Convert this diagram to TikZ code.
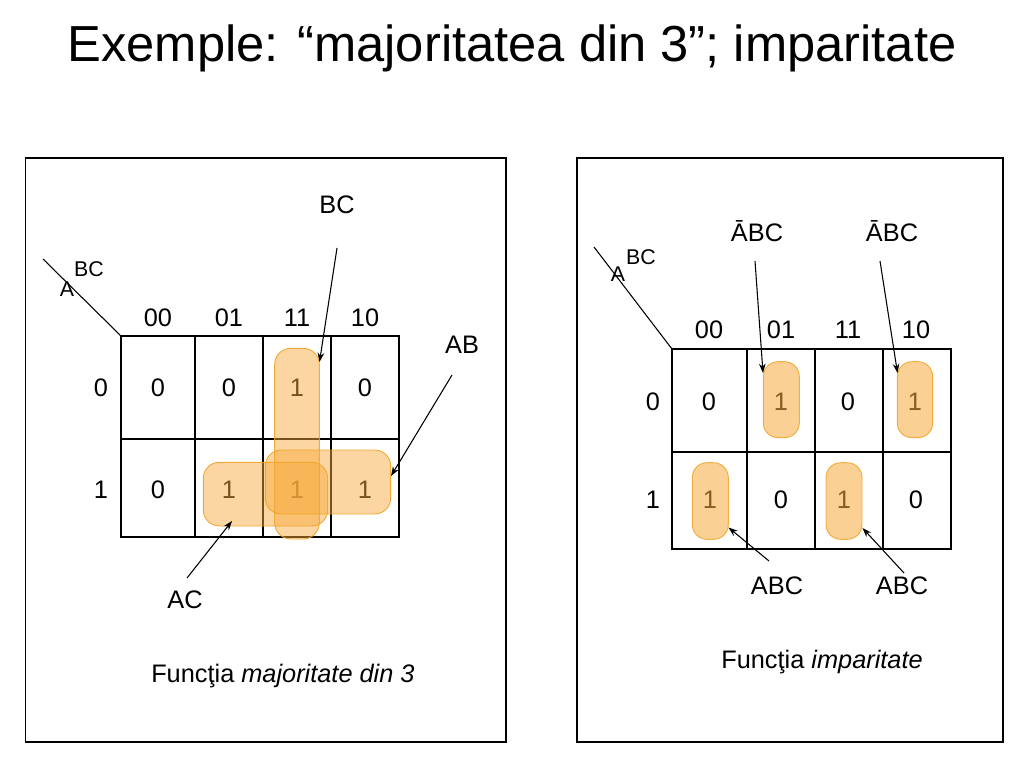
\documentclass[tikz,border=0pt]{standalone}
\usepackage{fontspec}
\setmainfont{Liberation Sans}
\usetikzlibrary{arrows.meta}
\definecolor{loopfill}{RGB}{247,170,60}
\definecolor{loopdraw}{RGB}{240,160,30}
\tikzset{
  x=0.75pt, y=-0.75pt,
  frame/.style={draw=black, line width=0.9pt},
  grid/.style={draw=black, line width=0.9pt},
  txt/.style={inner sep=0pt, font=\fontsize{19}{21}\selectfont},
  small/.style={inner sep=0pt, font=\fontsize{16}{18}\selectfont},
  captext/.style={inner sep=0pt, font=\fontsize{19}{21}\selectfont},
  loopA/.style={fill=loopfill, draw=loopdraw, fill opacity=0.48, draw opacity=0.85, line width=0.7pt, rounded corners=12pt},
  loopB/.style={fill=loopfill, draw=loopdraw, fill opacity=0.55, draw opacity=0.8, line width=0.7pt, rounded corners=11pt},
  arr/.style={draw=black, line width=0.8pt, -{Stealth[length=7pt,width=5pt]}},
}
\begin{document}
\begin{tikzpicture}
\useasboundingbox (0,0) rectangle (1024,768);
% title
\node[inner sep=0pt, font=\fontsize{38}{42}\selectfont] (title) at (512,48) {Exemple: “majoritatea din 3”; imparitate};

% frames
\draw[frame] (25.5,158) rectangle (506,742);
\draw[frame] (577,158) rectangle (1003,742);

% ===== left K-map =====
\draw[grid] (121,336) rectangle (399,537);
\draw[grid] (195,336) -- (195,537);
\draw[grid] (263,336) -- (263,537);
\draw[grid] (331,336) -- (331,537);
\draw[grid] (121,439) -- (399,439);
\coordinate (lcorner) at (121,336);
\coordinate (ldiag) at (43,259);
\draw[grid, line width=0.8pt] (ldiag) -- (lcorner);
\node[small] (lA) at (67,289) {A};
\node[small] (lBC) at (89,269) {BC};
\node[txt] (lh00) at (158,318) {00};
\node[txt] (lh01) at (229,318) {01};
\node[txt] (lh11) at (297,318) {11};
\node[txt] (lh10) at (365,318) {10};
\node[txt] (lr0) at (101,388) {0};
\node[txt] (lr1) at (101,490) {1};
\node[txt] (l00) at (158,388) {0};
\node[txt] (l01) at (229,388) {0};
\node[txt] (l11) at (297,388) {1};
\node[txt] (l10) at (365,388) {0};
\node[txt] (l100) at (158,490) {0};
\node[txt] (l101) at (229,490) {1};
\node[txt] (l111) at (297,490) {1};
\node[txt] (l110) at (365,490) {1};
% loops
\draw[loopA] (274.7,348.3) rectangle (319.3,539);
\draw[loopA] (203.3,462.3) rectangle (327.7,526);
\draw[loopA] (265.3,450) rectangle (390.7,514);
% labels and arrows
\node[txt] (BClab) at (337,205) {BC};
\node[txt] (ABlab) at (462,345) {AB};
\node[txt] (AClab) at (185,600) {AC};
\coordinate (BCs) at (337,248);
\coordinate (BCe) at (319.5,362);
\coordinate (ABs) at (452,375);
\coordinate (ABe) at (391,476);
\coordinate (ACs) at (187,578);
\coordinate (ACe) at (232,521);
\draw[arr] (BCs) -- (BCe);
\draw[arr] (ABs) -- (ABe);
\draw[arr] (ACs) -- (ACe);
\node[captext, anchor=west] (lcap) at (151,676) {Funcţia \textit{majoritate din 3}};

% ===== right K-map =====
\draw[grid] (672,349) rectangle (951,549);
\draw[grid] (747,349) -- (747,549);
\draw[grid] (815,349) -- (815,549);
\draw[grid] (883,349) -- (883,549);
\draw[grid] (672,452) -- (951,452);
\coordinate (rcorner) at (672,349);
\coordinate (rdiag) at (594,247);
\draw[grid, line width=0.8pt] (rdiag) -- (rcorner);
\node[small] (rA) at (618,274) {A};
\node[small] (rBC) at (641,257) {BC};
\node[txt] (rh00) at (709,330) {00};
\node[txt] (rh01) at (781,330) {01};
\node[txt] (rh11) at (848,330) {11};
\node[txt] (rh10) at (916,330) {10};
\node[txt] (rr0) at (653,402) {0};
\node[txt] (rr1) at (653,500) {1};
\node[txt] (r00) at (709,402) {0};
\node[txt] (r01) at (781,402) {1};
\node[txt] (r11) at (848,402) {0};
\node[txt] (r10) at (915,402) {1};
\node[txt] (r100) at (710,500) {1};
\node[txt] (r101) at (781,500) {0};
\node[txt] (r111) at (844,500) {1};
\node[txt] (r110) at (916,500) {0};
% loops
\draw[loopB] (763.3,361.7) rectangle (799.3,437.7);
\draw[loopB] (897.3,361.7) rectangle (932.7,437.7);
\draw[loopB] (692.3,462.7) rectangle (728.3,539.3);
\draw[loopB] (826,462.7) rectangle (862,539.3);
% labels and arrows
\node[txt] (nA1) at (757,231) {ĀBC};
\node[txt] (nA2) at (892,231) {ĀBC};
\node[txt] (abc1) at (777,586) {ABC};
\node[txt] (abc2) at (902,586) {ABC};
\coordinate (n1s) at (755,261);
\coordinate (n1e) at (763,373);
\coordinate (n2s) at (880,261);
\coordinate (n2e) at (897.5,373);
\coordinate (a1s) at (769,561);
\coordinate (a1e) at (728.5,527.5);
\coordinate (a2s) at (904,573);
\coordinate (a2e) at (862.5,528);
\draw[arr] (n1s) -- (n1e);
\draw[arr] (n2s) -- (n2e);
\draw[arr] (a1s) -- (a1e);
\draw[arr] (a2s) -- (a2e);
\node[captext] (rcap) at (822,662) {Funcţia \textit{imparitate}};
\end{tikzpicture}
\end{document}
